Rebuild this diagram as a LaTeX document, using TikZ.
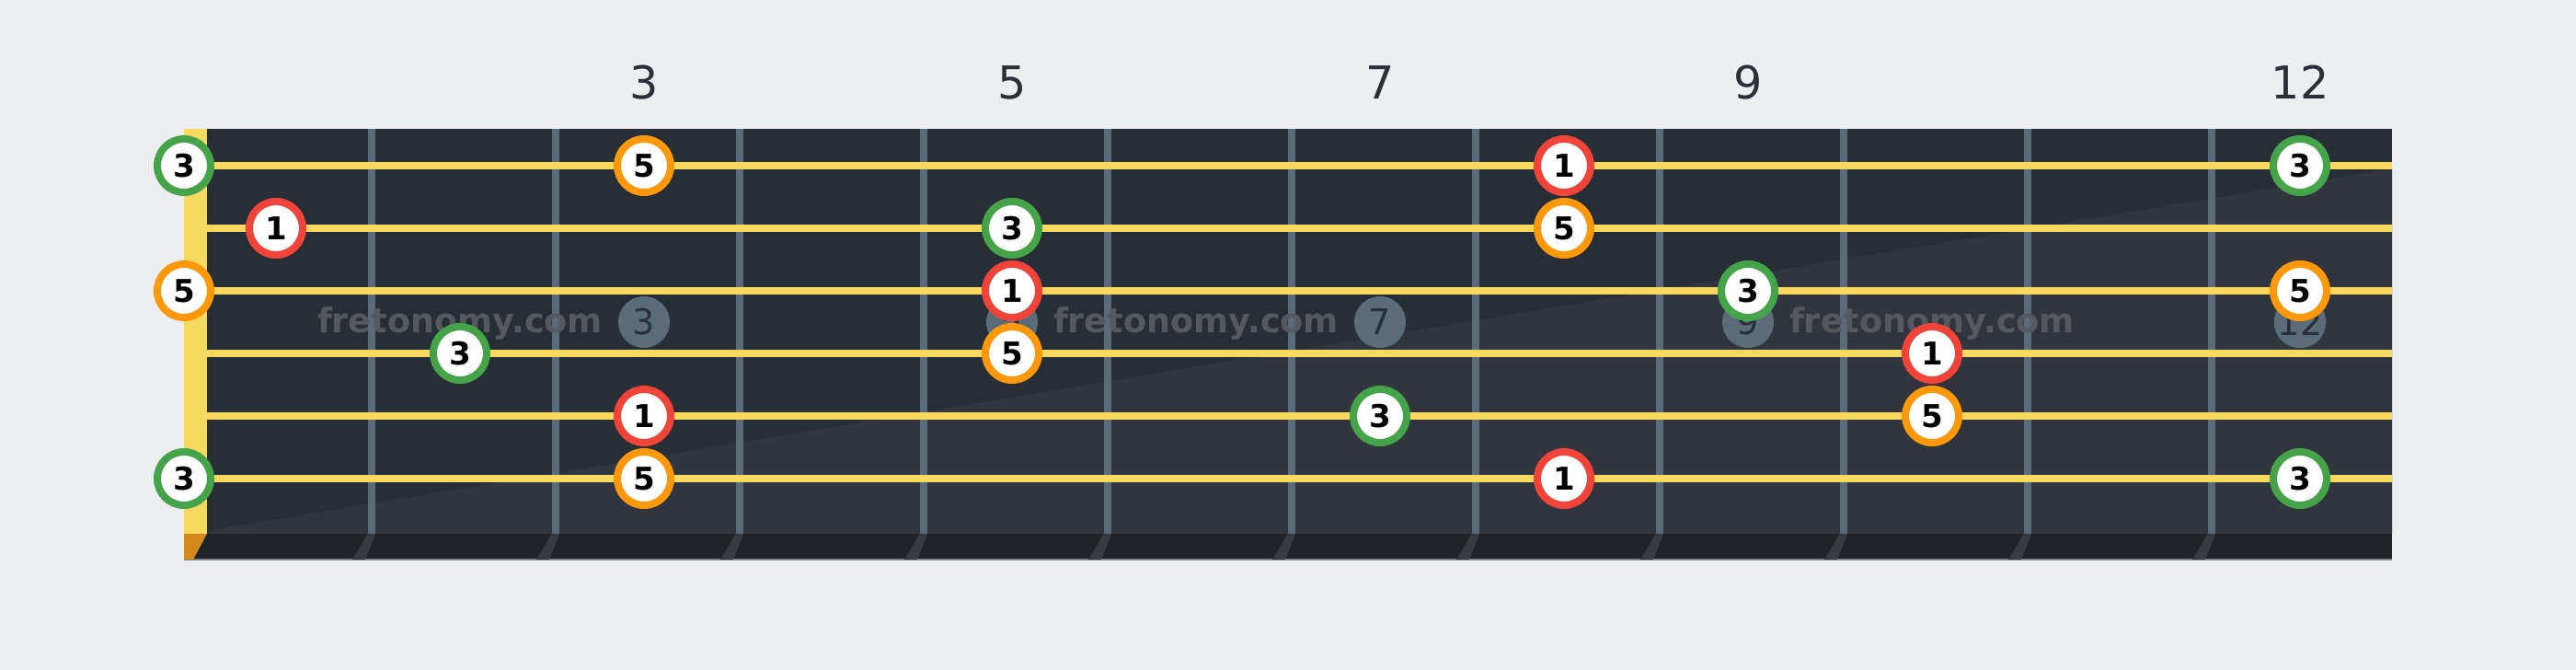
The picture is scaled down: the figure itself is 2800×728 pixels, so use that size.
\documentclass[tikz,border=0pt]{standalone}
\usepackage{fontspec}
\setmainfont{DejaVu Sans}
\usepackage{xcolor}
\usetikzlibrary{shapes}
\definecolor{fondo}{HTML}{EDEEF0}
\definecolor{mastil}{HTML}{282E36}
\definecolor{mastilclaro}{HTML}{31363E}
\definecolor{borde}{HTML}{202327}
\definecolor{gris}{HTML}{7A828A}
\definecolor{sombra}{HTML}{383C42}
\definecolor{cejilla}{HTML}{D4891F}
\definecolor{cuerda}{HTML}{F8D960}
\definecolor{traste}{HTML}{5A6B7A}
\definecolor{verde}{HTML}{45A349}
\definecolor{rojo}{HTML}{F0443A}
\definecolor{naranja}{HTML}{FB980C}
\definecolor{marca}{HTML}{55595E}
\definecolor{texto}{HTML}{2B3038}

\begin{document}
\begin{tikzpicture}[x=0.01cm,y=-0.01cm,
        nota/.style={circle,fill=white,line width=0.08cm,minimum size=0.58cm,inner sep=0pt,text=black,font=\fontsize{9.7}{10}\selectfont\bfseries},
        marcador/.style={circle,fill=traste,minimum size=0.56cm,inner sep=0pt,text=texto,font=\fontsize{10.9}{12}\selectfont},
        agua/.style={anchor=base,text=marca,font=\fontsize{10.4}{12}\selectfont\bfseries},
        numero/.style={anchor=base,text=texto,font=\fontsize{14}{17}\selectfont}]
        \fill[fondo] (0,0) rectangle (2800,728); % fondo
        \useasboundingbox (0,0) rectangle (2800,728);
        \fill[mastil] (225,140) rectangle (2600,580); % mastil
        \fill[mastilclaro] (225,577) -- (2600,183) -- (2600,580) -- (225,580) -- cycle; % sombra diagonal
        \fill[borde] (200,580) rectangle (2600,608); % canto
        \draw[gris,line width=0.015cm] (200,608) -- (2600,608);
        \fill[cejilla] (200,580) -- (225,580) -- (210,608) -- (200,608) -- cycle;
        \foreach \x in {404,604,...,2404}
        {
        \draw[traste,line width=0.08cm] (\x,140) -- (\x,580); % trastes
        \fill[sombra] (\x-4,580) -- (\x+4,580) -- (\x-7,608) -- (\x-21,608) -- cycle;
        }
        \foreach \x/\n in {700/3,1100/5,1500/7,1900/9,2500/12}
        \node[marcador] (m\n) at (\x,350) {\n}; % marcas
        \foreach \x/\k in {500/1,1300/2,2100/3}
        \node[agua] (agua\k) at (\x,362) {fretonomy.com};
        \foreach \y in {180,248,...,520}
        \draw[cuerda,line width=0.08cm] (225,\y) -- (2600,\y); % cuerdas
        \fill[cuerda] (200,140) rectangle (225,580); % cejuela
        \foreach \x/\n in {700/3,1100/5,1500/7,1900/9,2500/12}
        \node[numero] (t\n) at (\x,108) {\n};
        %\node[numero] (t1) at (300,108) {1};
        \foreach \x/\y/\t/\c/\n in {200/180/3/verde/a1,700/180/5/naranja/a2,1700/180/1/rojo/a3,2500/180/3/verde/a4,
                300/248/1/rojo/b1,1100/248/3/verde/b2,1700/248/5/naranja/b3,
                200/316/5/naranja/c1,1100/316/1/rojo/c2,1900/316/3/verde/c3,2500/316/5/naranja/c4,
                500/384/3/verde/d1,1100/384/5/naranja/d2,2100/384/1/rojo/d3,
                700/452/1/rojo/e1,1500/452/3/verde/e2,2100/452/5/naranja/e3,
                200/520/3/verde/f1,700/520/5/naranja/f2,1700/520/1/rojo/f3,2500/520/3/verde/f4}
        \node[nota,draw=\c] (\n) at (\x,\y) {\t}; % notas
        \end{tikzpicture}
\end{document}
